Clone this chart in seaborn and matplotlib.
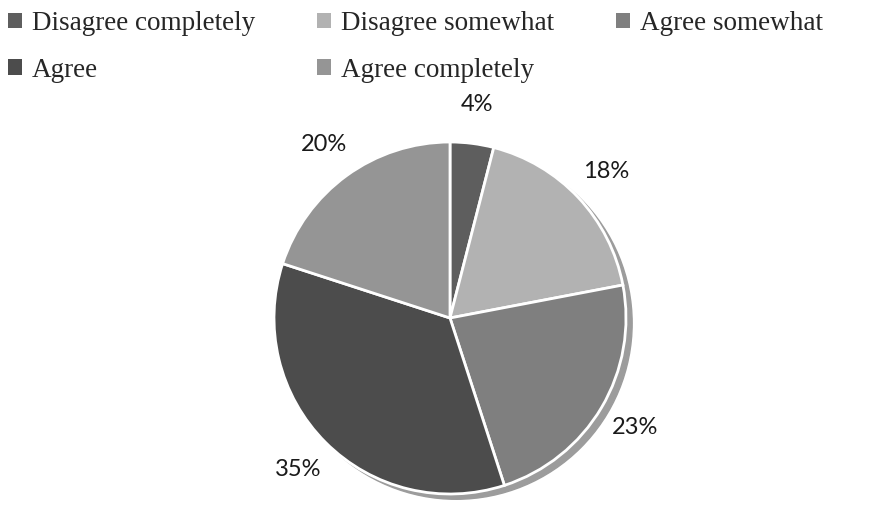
import matplotlib
matplotlib.use("Agg")
import matplotlib.pyplot as plt
from matplotlib.patches import Patch, Circle
import seaborn as sns

# survey answers, clockwise from 12 o'clock
labels = ["Disagree completely", "Disagree somewhat", "Agree somewhat",
          "Agree", "Agree completely"]
shares = [4, 18, 23, 35, 20]
colors = ["#5e5e5e", "#b2b2b2", "#7f7f7f", "#4c4c4c", "#959595"]

sns.set_theme(style="white")
plt.rcParams["font.family"] = ["Liberation Serif", "DejaVu Serif"]

fig = plt.figure(figsize=(8.72, 5.05), dpi=100)
ax = fig.add_axes([0, 0, 1, 1])

# drop shadow behind the pie (lower right)
ax.add_patch(Circle((0.035, -0.03), 1.0, color="#9c9c9c", zorder=0))

wedges, texts, autotexts = ax.pie(
    shares, colors=colors, startangle=90, counterclock=False,
    autopct="%d%%", pctdistance=1.22, radius=1.0,
    wedgeprops=dict(edgecolor="white", linewidth=2),
    textprops=dict(family=["Lato", "DejaVu Sans"], fontsize=17, color="#1a1a1a"),
)
for w in wedges:
    w.set_zorder(2)

# pixel-matched view: centre at (450, 318), radius 176 px
s = 176.0
ax.set_xlim(-450 / s, (872 - 450) / s)
ax.set_ylim(-(505 - 318) / s, 318 / s)
ax.set_aspect("auto")
ax.axis("off")

# legend filled row by row (matplotlib fills columns, so reorder)
handles = [Patch(facecolor=c, edgecolor="none") for c in colors]
order = [0, 3, 1, 4, 2]
fig.legend([handles[i] for i in order], [labels[i] for i in order],
           loc="upper left", bbox_to_anchor=(0.0, 0.994), ncol=3, frameon=False,
           fontsize=19.5, handlelength=0.52, handleheight=0.52,
           handletextpad=0.35, columnspacing=2.3, labelspacing=0.8,
           borderaxespad=0.0, borderpad=0.3)

fig.savefig("out.png", dpi=100)
